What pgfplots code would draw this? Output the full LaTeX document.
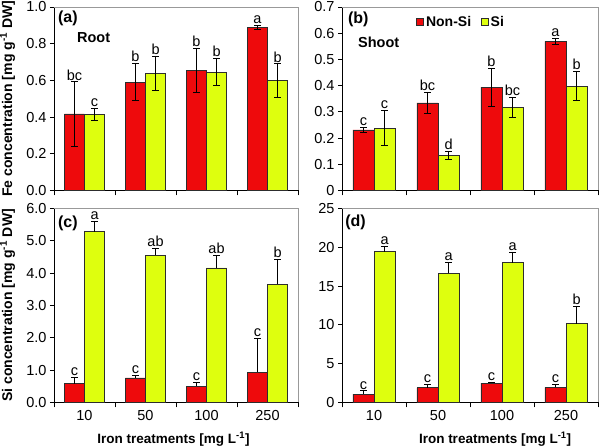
\documentclass[border=0pt]{standalone}
\usepackage{fontspec}
\setmainfont{Liberation Sans}
\usepackage{pgfplots}
\pgfplotsset{compat=1.18}
\usepackage{pgfplotstable}

\definecolor{nsred}{RGB}{238,10,12}
\definecolor{siyel}{RGB}{222,255,14}
\definecolor{edge}{RGB}{45,45,45}

\pgfplotstableread{
x y e lab
0 0.417 0.175 bc
1 0.591 0.100 b
2 0.656 0.120 b
3 0.889 0.012 a
}\aNon
\pgfplotstableread{
x y e lab
0 0.415 0.035 c
1 0.638 0.095 b
2 0.645 0.075 b
3 0.600 0.090 b
}\aSi
\pgfplotstableread{
x y e lab
0 0.231 0.011 c
1 0.334 0.040 bc
2 0.394 0.072 b
3 0.569 0.010 a
}\bNon
\pgfplotstableread{
x y e lab
0 0.238 0.066 c
1 0.133 0.015 d
2 0.316 0.039 bc
3 0.398 0.055 b
}\bSi
\pgfplotstableread{
x y e lab
0 0.58 0.21 c
1 0.76 0.09 c
2 0.51 0.10 c
3 0.93 1.05 c
}\cNon
\pgfplotstableread{
x y e lab
0 5.28 0.32 a
1 4.55 0.22 ab
2 4.16 0.38 ab
3 3.65 0.79 b
}\cSi
\pgfplotstableread{
x y e lab
0 1.08 0.42 c
1 1.90 0.38 c
2 2.50 0.13 c
3 1.94 0.43 c
}\dNon
\pgfplotstableread{
x y e lab
0 19.44 0.65 a
1 16.64 1.46 a
2 18.02 1.38 a
3 10.17 2.24 b
}\dSi

\pgfplotsset{
  panel/.style={
    scale only axis, ybar, clip=false,
    bar width=0.33,
    xmin=-0.5, xmax=3.5, ymin=0,
    axis x line*=bottom, axis y line*=left,
    axis line style={-, black, line width=0.8pt},
    xtick={0,1,2,3},
    major x tick style={draw=none},
    minor xtick={-0.5,0.5,1.5,2.5,3.5},
    minor x tick style={black, line width=0.8pt},
    minor tick length=5pt,
    major tick length=4pt,
    tick align=outside,
    ytick style={black, line width=0.8pt},
    /pgf/number format/assume math mode=true,
    tick label style={font=\fontsize{14.5}{16}\selectfont},
    ylabel style={at={(axis description cs:-0.19,0.5)}, anchor=center,
      font=\bfseries\fontsize{14}{16}\selectfont},
    legend image code/.code={\draw[#1, line width=0.6pt] (0pt,-3.5pt) rectangle (7pt,3.5pt);},
  },
  nonsi/.style={fill=nsred, draw=edge, line width=0.7pt, bar shift=-0.165},
  si/.style={fill=siyel, draw=edge, line width=0.7pt, bar shift=0.165},
  errboth/.style={error bars/.cd, y dir=both, y explicit,
    error bar style={black, line width=0.8pt},
    error mark options={rotate=90, mark size=3.2pt, black, line width=0.8pt}},
  errplus/.style={error bars/.cd, y dir=plus, y explicit,
    error bar style={black, line width=0.8pt},
    error mark options={rotate=90, mark size=3.2pt, black, line width=0.8pt}},
  lett/.style={draw=none, fill=none, forget plot, bar shift=#1,
    nodes near coords, point meta=explicit symbolic,
    nodes near coords style={font=\fontsize{14.5}{16}\selectfont, anchor=south, inner sep=1.5pt, black}},
}

\newcommand{\frameTR}{\draw[gray!80, line width=0.6pt] (rel axis cs:0,1) -- (rel axis cs:1,1) -- (rel axis cs:1,0);}

\begin{document}
\begin{tikzpicture}
\useasboundingbox (0pt,0pt) rectangle (600pt,446pt);

% (a)
\begin{axis}[panel, at={(54pt,255.5pt)}, anchor=south west,
  width=244pt, height=183.5pt, ymax=1.0,
  ytick={0,0.2,0.4,0.6,0.8,1.0},
  yticklabel style={/pgf/number format/.cd, fixed, fixed zerofill, precision=1},
  xticklabels={},
  ylabel={Fe concentration [mg g\textsuperscript{-1} DW]}]
\addplot[nonsi, errboth] table[x=x, y=y, y error=e] {\aNon};
\addplot[si, errboth] table[x=x, y=y, y error=e] {\aSi};
\addplot[lett=-0.165] table[x=x, y expr=\thisrow{y}+\thisrow{e}, meta=lab] {\aNon};
\addplot[lett=0.165] table[x=x, y expr=\thisrow{y}+\thisrow{e}, meta=lab] {\aSi};
\frameTR
\node[font=\bfseries\fontsize{16}{18}\selectfont, anchor=west, inner sep=0pt] at (rel axis cs:0.016,0.94) {(a)};
\node[font=\bfseries\fontsize{14.5}{16}\selectfont, anchor=west, inner sep=0pt] at (rel axis cs:0.094,0.836) {Root};
\end{axis}

% (b)
\begin{axis}[panel, at={(342pt,255.5pt)}, anchor=south west,
  width=256pt, height=183.5pt, ymax=0.7,
  ytick={0,0.1,0.2,0.3,0.4,0.5,0.6,0.7},
  xticklabels={},
  legend style={draw=none, fill=none, at={(rel axis cs:0.29,0.918)}, anchor=west,
    legend columns=2, font=\bfseries\fontsize{14}{16}\selectfont,
    inner sep=0pt,
    /tikz/every even column/.append style={column sep=8pt}},
  legend cell align=left]
\addplot[nonsi, errboth] table[x=x, y=y, y error=e] {\bNon};
\addlegendentry{Non-Si}
\addplot[si, errboth] table[x=x, y=y, y error=e] {\bSi};
\addlegendentry{Si}
\addplot[lett=-0.165] table[x=x, y expr=\thisrow{y}+\thisrow{e}, meta=lab] {\bNon};
\addplot[lett=0.165] table[x=x, y expr=\thisrow{y}+\thisrow{e}, meta=lab] {\bSi};
\frameTR
\node[font=\bfseries\fontsize{16}{18}\selectfont, anchor=west, inner sep=0pt] at (rel axis cs:0.023,0.93) {(b)};
\node[font=\bfseries\fontsize{14.5}{16}\selectfont, anchor=west, inner sep=0pt] at (rel axis cs:0.0625,0.81) {Shoot};
\end{axis}

% (c)
\begin{axis}[panel, at={(54pt,43.5pt)}, anchor=south west,
  width=244pt, height=194pt, ymax=6.0,
  ytick={0,1,2,3,4,5,6},
  yticklabel style={/pgf/number format/.cd, fixed, fixed zerofill, precision=1},
  xticklabels={10,50,100,250},
  ylabel={Si concentration [mg g\textsuperscript{-1} DW]},
  xlabel={Iron treatments [mg L\textsuperscript{-1}]},
  xlabel style={at={(axis description cs:0.49,-0.19)}, anchor=center,
      font=\bfseries\fontsize{13.5}{15}\selectfont}]
\addplot[nonsi, errplus] table[x=x, y=y, y error=e] {\cNon};
\addplot[si, errplus] table[x=x, y=y, y error=e] {\cSi};
\addplot[lett=-0.165] table[x=x, y expr=\thisrow{y}+\thisrow{e}, meta=lab] {\cNon};
\addplot[lett=0.165] table[x=x, y expr=\thisrow{y}+\thisrow{e}, meta=lab] {\cSi};
\frameTR
\node[font=\bfseries\fontsize{16}{18}\selectfont, anchor=west, inner sep=0pt] at (rel axis cs:0.016,0.925) {(c)};
\end{axis}

% (d)
\begin{axis}[panel, at={(342pt,43.5pt)}, anchor=south west,
  width=256pt, height=194pt, ymax=25,
  ytick={0,5,10,15,20,25},
  xticklabels={10,50,100,250},
  xlabel={Iron treatments [mg L\textsuperscript{-1}]},
  xlabel style={at={(axis description cs:0.598,-0.188)}, anchor=center,
      font=\bfseries\fontsize{13.5}{15}\selectfont}]
\addplot[nonsi, errplus] table[x=x, y=y, y error=e] {\dNon};
\addplot[si, errplus] table[x=x, y=y, y error=e] {\dSi};
\addplot[lett=-0.165] table[x=x, y expr=\thisrow{y}+\thisrow{e}, meta=lab] {\dNon};
\addplot[lett=0.165] table[x=x, y expr=\thisrow{y}+\thisrow{e}, meta=lab] {\dSi};
\frameTR
\node[font=\bfseries\fontsize{16}{18}\selectfont, anchor=west, inner sep=0pt] at (rel axis cs:0.012,0.93) {(d)};
\end{axis}
\end{tikzpicture}
\end{document}
